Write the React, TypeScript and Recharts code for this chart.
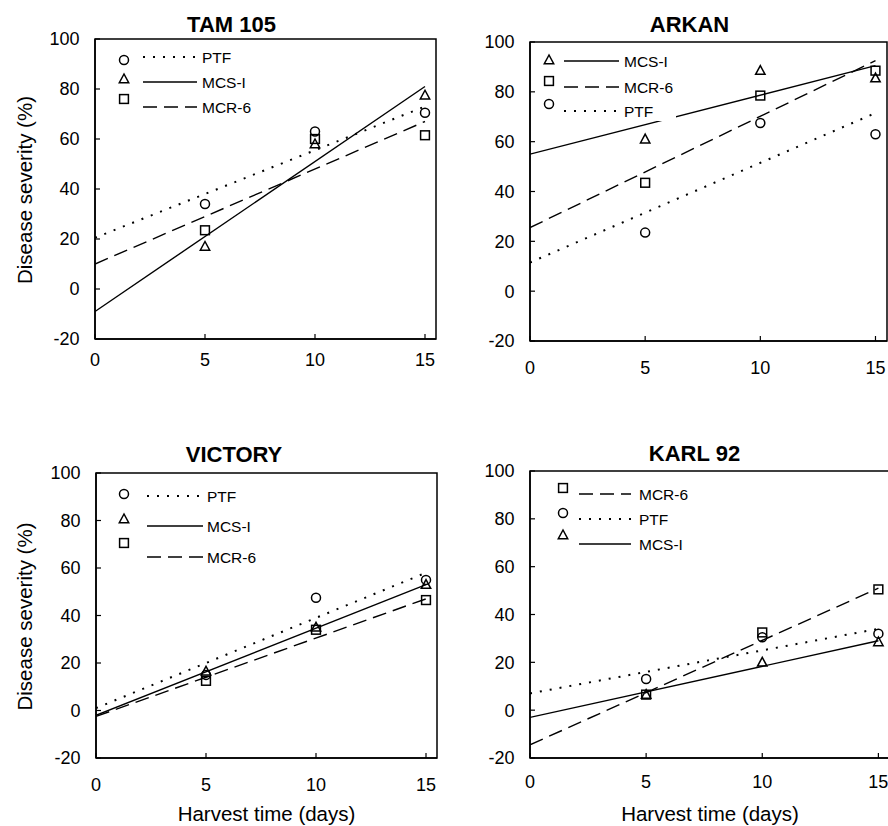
import React from "react";
import { ComposedChart, Line, Scatter, XAxis, YAxis, ReferenceArea, Legend } from "recharts";

// harvest days of the measured points and of the fitted lines
const days = [5, 10, 15];
const fitDays = [0, 15];
const xTicks = [0, 5, 10, 15];
const yTicks = [-20, 0, 20, 40, 60, 80, 100];

// TAM 105
const tamPTF = [34, 63, 70.5];
const tamMCS = [17, 58, 77.5];
const tamMCR = [23.5, 60, 61.5];
const tamPTFFit = [20.5, 73];
const tamMCSFit = [-9, 81];
const tamMCRFit = [10, 67];

// ARKAN
const arkMCS = [61, 88.5, 85.5];
const arkMCR = [43.5, 78.5, 88.5];
const arkPTF = [23.5, 67.5, 63];
const arkMCSFit = [55, 90.5];
const arkMCRFit = [25.5, 92.5];
const arkPTFFit = [11.5, 71.5];

// VICTORY
const vicPTF = [15, 47.5, 55];
const vicMCS = [16.5, 35, 53];
const vicMCR = [12.5, 34, 46.5];
const vicPTFFit = [1, 58];
const vicMCSFit = [-2, 53];
const vicMCRFit = [-2.5, 47];

// KARL 92
const karMCR = [6.5, 32.5, 50.5];
const karPTF = [13, 30.5, 32];
const karMCS = [6.5, 20, 28.5];
const karMCRFit = [-14.5, 51];
const karPTFFit = [7, 34];
const karMCSFit = [-3, 29];

const FONT = '"Liberation Sans", Arial, Helvetica, sans-serif';

const dash: Record<string, string | undefined> = { PTF: "2 8", "MCS-I": undefined, "MCR-6": "14 7" };
const lineW: Record<string, number> = { PTF: 2, "MCS-I": 1.4, "MCR-6": 1.4 };

const toPts = (vals: number[]) => vals.map((y, i) => ({ x: days[i], y }));
const toFit = (vals: number[]) => vals.map((y, i) => ({ x: fitDays[i], y }));

function Marker({ kind, cx, cy }: { kind: string; cx?: number; cy?: number }) {
  if (cx == null || cy == null) return null;
  const st = { fill: "none", stroke: "#000", strokeWidth: 1.5 };
  if (kind === "PTF") return <circle cx={cx} cy={cy} r={4.5} {...st} />;
  if (kind === "MCS-I")
    return <polygon points={`${cx},${cy - 5} ${cx - 4.7},${cy + 3.7} ${cx + 4.7},${cy + 3.7}`} {...st} />;
  return <rect x={cx - 4.4} y={cy - 4.4} width={8.8} height={8.8} {...st} />;
}

const panels = [
  {
    title: "TAM 105", left: 0, top: 0, width: 444, yW: 95, plotTop: 39, plotW: 341, plotH: 300, gap: 14,
    yLabel: true, xLabel: false, titleX: 231.5, titleY: 32,
    series: [
      { kind: "PTF", pts: tamPTF, fit: tamPTFFit },
      { kind: "MCS-I", pts: tamMCS, fit: tamMCSFit },
      { kind: "MCR-6", pts: tamMCR, fit: tamMCRFit },
    ],
    lg: { mx: 124, x1: 143, x2: 197, tx: 202, rows: [["PTF", 60, 57], ["MCS-I", 79, 82], ["MCR-6", 99, 107]] },
    mask: null,
  },
  {
    title: "ARKAN", left: 444, top: 0, width: 460, yW: 86, plotTop: 42, plotW: 357, plotH: 299, gap: 20,
    yLabel: false, xLabel: false, titleX: 245.5, titleY: 32,
    series: [
      { kind: "MCS-I", pts: arkMCS, fit: arkMCSFit },
      { kind: "MCR-6", pts: arkMCR, fit: arkMCRFit },
      { kind: "PTF", pts: arkPTF, fit: arkPTFFit },
    ],
    lg: { mx: 105, x1: 120, x2: 175, tx: 180, rows: [["MCS-I", 60, 61], ["MCR-6", 81, 87], ["PTF", 104, 111]] },
    mask: { x: 91, y: 45, w: 141, h: 76 },
  },
  {
    title: "VICTORY", left: 0, top: 413, width: 444, yW: 96, plotTop: 60, plotW: 341, plotH: 285, gap: 20,
    yLabel: true, xLabel: true, titleX: 234, titleY: 49,
    series: [
      { kind: "PTF", pts: vicPTF, fit: vicPTFFit },
      { kind: "MCS-I", pts: vicMCS, fit: vicMCSFit },
      { kind: "MCR-6", pts: vicMCR, fit: vicMCRFit },
    ],
    lg: { mx: 124, x1: 147, x2: 203, tx: 207, rows: [["PTF", 81, 83], ["MCS-I", 106, 113], ["MCR-6", 130, 144]] },
    mask: null,
  },
  {
    title: "KARL 92", left: 444, top: 413, width: 460, yW: 86, plotTop: 58, plotW: 360, plotH: 287, gap: 17,
    yLabel: false, xLabel: true, titleX: 250.5, titleY: 48,
    series: [
      { kind: "MCR-6", pts: karMCR, fit: karMCRFit },
      { kind: "PTF", pts: karPTF, fit: karPTFFit },
      { kind: "MCS-I", pts: karMCS, fit: karMCSFit },
    ],
    lg: { mx: 119, x1: 135, x2: 187, tx: 195, rows: [["MCR-6", 75, 81], ["PTF", 100, 106], ["MCS-I", 122, 131]] },
    mask: null,
  },
];

const yLabel = (props: any) => {
  const vb = props.viewBox;
  const x = vb.x + 24;
  const y = vb.y + vb.height / 2 + 1;
  return (
    <text x={x} y={y} transform={`rotate(-90, ${x}, ${y})`} textAnchor="middle" dominantBaseline="central"
      fontSize={20.5} fontFamily={FONT} fill="#000">
      Disease severity (%)
    </text>
  );
};

const xLabel = (props: any) => {
  const vb = props.viewBox;
  return (
    <text x={vb.x + vb.width / 2} y={vb.y + vb.height - 5} textAnchor="middle" fontSize={20.5} fontFamily={FONT} fill="#000">
      Harvest time (days)
    </text>
  );
};

const XTick = (props: any) => (
  <text x={props.x} y={props.y} dy="0.72em" textAnchor="middle" fontSize={18} fontFamily={FONT} fill="#000">
    {props.payload.value}
  </text>
);

const YTick = (props: any) => (
  <text x={props.x} y={props.y} dy="0.36em" textAnchor="end" fontSize={18} fontFamily={FONT} fill="#000">
    {props.payload.value}
  </text>
);

function Panel({ p }: { p: (typeof panels)[number] }) {
  const H = 413;
  const xH = H - p.plotTop - p.plotH;
  return (
    <div style={{ position: "absolute", left: p.left, top: p.top }}>
      <ComposedChart width={p.width} height={H} margin={{ top: p.plotTop, right: p.width - p.yW - p.plotW, left: 0, bottom: 0 }}>
        <XAxis type="number" dataKey="x" domain={[0, 15.5]} ticks={xTicks} allowDataOverflow interval={0}
          height={xH} tickSize={-5} tickMargin={p.gap + 5} tick={<XTick />}
          axisLine={{ stroke: "#000", strokeWidth: 1.5 }} tickLine={{ stroke: "#000", strokeWidth: 1.2 }}
          label={p.xLabel ? xLabel : undefined} />
        <YAxis type="number" dataKey="y" domain={[-20, 100]} ticks={yTicks} allowDataOverflow interval={0}
          width={p.yW} tickSize={-5} tickMargin={20.5} tick={<YTick />}
          axisLine={{ stroke: "#000", strokeWidth: 1.5 }} tickLine={{ stroke: "#000", strokeWidth: 1.2 }}
          label={p.yLabel ? yLabel : undefined} />
        <ReferenceArea x1={0} x2={15.5} y1={-20} y2={100} fill="none" stroke="#000" strokeWidth={1.5} ifOverflow="visible" />
        {p.series.map((s) => (
          <Line key={"l" + s.kind} data={toFit(s.fit)} dataKey="y" type="linear" stroke="#000"
            strokeWidth={lineW[s.kind]} strokeDasharray={dash[s.kind]} dot={false} activeDot={false}
            legendType="none" isAnimationActive={false} />
        ))}
        {p.series.map((s) => (
          <Scatter key={"s" + s.kind} data={toPts(s.pts)} dataKey="y" legendType="none" isAnimationActive={false}
            shape={(sp: any) => <Marker kind={s.kind} cx={sp.cx} cy={sp.cy} />} />
        ))}
        <Legend layout="horizontal" verticalAlign="middle" align="center"
          wrapperStyle={{ position: "absolute", left: 0, top: 0, width: p.width, height: 170, pointerEvents: "none" }}
          content={() => (
            <svg width={p.width} height={170} style={{ display: "block" }}>
              {p.mask && <rect x={p.mask.x} y={p.mask.y} width={p.mask.w} height={p.mask.h} fill="#fff" />}
              <text x={p.titleX} y={p.titleY} textAnchor="middle" fontSize={22} fontWeight="bold" fontFamily={FONT} fill="#000">
                {p.title}
              </text>
              {p.lg.rows.map(([kind, my, ly]) => (
                <g key={kind as string}>
                  <Marker kind={kind as string} cx={p.lg.mx} cy={my as number} />
                  <line x1={p.lg.x1} x2={p.lg.x2} y1={ly as number} y2={ly as number} stroke="#000"
                    strokeWidth={lineW[kind as string]} strokeDasharray={dash[kind as string]} />
                  <text x={p.lg.tx} y={ly as number} dominantBaseline="central" fontSize={15.5} fontFamily={FONT} fill="#000">
                    {kind}
                  </text>
                </g>
              ))}
            </svg>
          )} />
      </ComposedChart>
    </div>
  );
}

export default function App() {
  return (
    <div style={{ position: "absolute", left: 0, top: 0, width: 888, height: 826, overflow: "hidden", background: "#fff", fontFamily: FONT }}>
      {panels.map((p) => (
        <Panel key={p.title} p={p} />
      ))}
    </div>
  );
}
